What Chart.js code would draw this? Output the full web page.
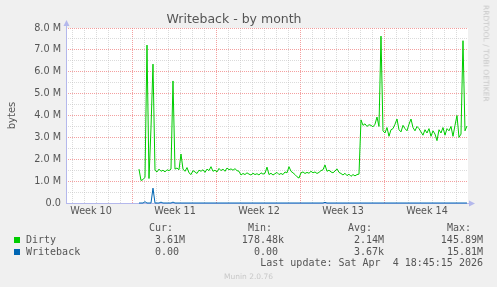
<!DOCTYPE html>
<html>
<head>
<meta charset="utf-8">
<script src="https://cdn.jsdelivr.net/npm/chart.js@4"></script>
<style>
  body { margin: 0; background: #f0f0f0; }
  #wrap { position: relative; width: 497px; height: 287px; overflow: hidden; }
  #chart { position: absolute; left: 0; top: 0; }
  .mono { position: absolute; font-family: "DejaVu Sans Mono", monospace; font-size: 10px; line-height: 12px; color: #555; white-space: pre; }
  .sq { position: absolute; width: 6px; height: 6px; }
  .small { position: absolute; font-family: "DejaVu Sans", sans-serif; font-size: 7.5px; line-height: 9px; color: #c8c8c8; white-space: pre; }
</style>
</head>
<body>
<div id="wrap">
  <canvas id="chart" width="497" height="287"></canvas>
</div>
<script>
// time axis is in days; week 11 starts at day 7
const weekLabels = ['Week 10', 'Week 11', 'Week 12', 'Week 13', 'Week 14'];
const weekStarts = [0, 7, 14, 21, 28];
const firstDay = 7.5;      // first sample
const stepDays = 1 / 6;    // one sample every 4 hours

// values in millions of bytes
const dirtyM = [
  1.55, 1.03, 1.07, 1.18, 7.22, 1.12, 3.43, 6.35, 1.50, 1.42,
  1.55, 1.45, 1.50, 1.42, 1.52, 1.48, 1.55, 5.58, 1.55, 1.60,
  1.52, 2.24, 1.55, 1.45, 1.62, 1.38, 1.30, 1.48, 1.42, 1.35,
  1.50, 1.45, 1.52, 1.40, 1.55, 1.48, 1.66, 1.45, 1.50, 1.42,
  1.58, 1.48, 1.55, 1.45, 1.60, 1.52, 1.56, 1.50, 1.57, 1.48,
  1.45, 1.28, 1.35, 1.30, 1.38, 1.32, 1.28, 1.36, 1.30, 1.34,
  1.28, 1.38, 1.32, 1.36, 1.64, 1.30, 1.36, 1.28, 1.34, 1.40,
  1.30, 1.35, 1.30, 1.42, 1.38, 1.66, 1.45, 1.38, 1.30, 1.20,
  1.14, 1.38, 1.42, 1.35, 1.40, 1.36, 1.45, 1.38, 1.42, 1.35,
  1.40, 1.48, 1.52, 1.74, 1.45, 1.50, 1.42, 1.38, 1.46, 1.56,
  1.40, 1.35, 1.28, 1.36, 1.25, 1.32, 1.22, 1.30, 1.24, 1.30,
  1.32, 3.80, 3.55, 3.62, 3.50, 3.58, 3.55, 3.48, 3.60, 3.93,
  3.50, 7.63, 3.30, 3.20, 3.45, 3.05, 3.35, 3.40, 3.60, 3.84,
  3.35, 3.25, 3.55, 3.40, 3.30, 3.60, 3.84, 3.45, 3.30, 3.50,
  3.40, 3.25, 3.10, 3.35, 3.20, 3.40, 3.05, 3.30, 3.15, 2.85,
  3.35, 3.20, 3.45, 3.10, 3.40, 3.30, 3.50, 3.05, 3.55, 4.00,
  3.00, 3.15, 7.42, 3.30, 3.52
];
const writebackM = [
  0, 0, 0, 0.06, 0, 0, 0, 0.68, 0, 0,
  0, 0.04, 0, 0, 0, 0, 0, 0.04, 0, 0,
  0, 0, 0, 0, 0, 0, 0, 0, 0, 0,
  0, 0, 0, 0, 0, 0, 0, 0, 0, 0,
  0, 0, 0, 0, 0, 0, 0, 0, 0, 0,
  0, 0, 0, 0, 0, 0, 0, 0, 0, 0,
  0, 0, 0, 0, 0, 0, 0, 0, 0, 0,
  0, 0, 0, 0, 0, 0, 0, 0, 0, 0,
  0, 0, 0, 0, 0, 0, 0, 0, 0, 0,
  0, 0, 0, 0.03, 0, 0, 0, 0, 0, 0,
  0, 0, 0, 0, 0, 0, 0, 0, 0, 0,
  0, 0, 0, 0, 0, 0, 0, 0, 0, 0,
  0, 0, 0, 0, 0, 0, 0, 0, 0, 0,
  0, 0, 0, 0, 0, 0, 0, 0, 0, 0,
  0, 0, 0, 0, 0, 0, 0, 0, 0, 0,
  0, 0, 0, 0, 0, 0, 0, 0, 0, 0,
  0, 0, 0, 0, 0
];

// legend / stats table
const seriesNames = ['Dirty', 'Writeback'];
const seriesColors = ['#00cc00', '#0066b3'];
const statHeaders = ['Cur:', 'Min:', 'Avg:', 'Max:'];
const curVals = ['3.61M', '0.00 '];
const minVals = ['178.48k', '0.00 '];
const avgVals = ['2.14M', '3.67k'];
const maxVals = ['145.89M', '15.81M'];
const lastUpdate = 'Last update: Sat Apr  4 18:45:15 2026';

const MAJOR = 'rgba(240, 120, 120, 0.7)';
const MINOR = 'rgba(190, 190, 190, 0.55)';
const AXIS = '#b4b8ec';

function toPoints(vals) {
  return vals.map((v, i) => ({ x: firstDay + i * stepDays, y: v * 1e6 }));
}

const plotBg = {
  id: 'plotBg',
  beforeDraw(chart) {
    const a = chart.chartArea;
    const ctx = chart.ctx;
    ctx.save();
    ctx.fillStyle = '#ffffff';
    ctx.fillRect(a.left, a.top, a.right - a.left, a.bottom - a.top);
    ctx.restore();
  },
  beforeDatasetsDraw(chart) {
    const a = chart.chartArea;
    const ctx = chart.ctx;
    ctx.save();
    ctx.strokeStyle = AXIS;
    ctx.fillStyle = AXIS;
    ctx.lineWidth = 1;
    ctx.beginPath();
    ctx.moveTo(a.left + 0.5, a.bottom + 0.5);
    ctx.lineTo(a.left + 0.5, a.top - 4);
    ctx.moveTo(a.left, a.bottom + 0.5);
    ctx.lineTo(a.right + 2, a.bottom + 0.5);
    ctx.stroke();
    ctx.beginPath();
    ctx.moveTo(a.left - 2.5, a.top - 2);
    ctx.lineTo(a.left + 3.5, a.top - 2);
    ctx.lineTo(a.left + 0.5, a.top - 8);
    ctx.closePath();
    ctx.fill();
    ctx.beginPath();
    ctx.moveTo(a.right + 1, a.bottom - 2.5);
    ctx.lineTo(a.right + 1, a.bottom + 3.5);
    ctx.lineTo(a.right + 7, a.bottom + 0.5);
    ctx.closePath();
    ctx.fill();
    ctx.restore();
  }
};

Chart.defaults.font.family = 'DejaVu Sans';
Chart.defaults.color = '#555';

new Chart(document.getElementById('chart'), {
  type: 'line',
  data: {
    datasets: [
      { label: 'Dirty', data: toPoints(dirtyM), borderColor: seriesColors[0], borderWidth: 1, pointRadius: 0, tension: 0, clip: 3 },
      { label: 'Writeback', data: toPoints(writebackM), borderColor: seriesColors[1], borderWidth: 1, pointRadius: 0, tension: 0, clip: 3 }
    ]
  },
  options: {
    responsive: false,
    animation: false,
    events: [],
    layout: { padding: { left: 0, right: 29, top: 0, bottom: 64 } },
    plugins: {
      legend: { display: false },
      tooltip: { enabled: false },
      title: {
        display: true,
        text: 'Writeback - by month',
        color: '#555',
        font: { size: 12.5, weight: 'normal' },
        padding: { top: 12, bottom: 1 }
      }
    },
    scales: {
      x: {
        type: 'linear',
        min: 1.417,
        max: 34.917,
        afterBuildTicks: s => {
          const t = [];
          for (let d = 2; d <= 34; d++) t.push({ value: d });
          weekStarts.forEach(w => t.push({ value: w + 3.5 }));
          t.sort((a, b) => a.value - b.value);
          s.ticks = t;
        },
        afterFit: s => { s.height = 20; },
        ticks: {
          autoSkip: false,
          maxRotation: 0,
          padding: 3,
          font: { size: 9.6 },
          color: '#555',
          callback: v => {
            const i = weekStarts.findIndex(w => w + 3.5 === v);
            return i >= 0 ? weekLabels[i] : '';
          }
        },
        grid: {
          drawTicks: false,
          color: c => {
            const v = c.tick ? c.tick.value : 0;
            if (v % 1) return 'rgba(0,0,0,0)';
            return v % 7 === 0 ? MAJOR : MINOR;
          },
          borderDash: [1, 1]
        },
        border: { display: false, dash: [1, 1] }
      },
      y: {
        min: 0,
        max: 8e6,
        afterFit: s => { s.width = 66; },
        ticks: {
          stepSize: 5e5,
          autoSkip: false,
          padding: 5,
          font: { size: 9.7 },
          color: '#555',
          callback: v => (v % 1e6 ? '' : (v === 0 ? '0.0' : (v / 1e6).toFixed(1) + ' M'))
        },
        grid: {
          drawTicks: false,
          color: c => ((c.tick ? c.tick.value : 0) % 1e6 ? MINOR : MAJOR),
          borderDash: [1, 1]
        },
        border: { display: false, dash: [1, 1] },
        title: {
          display: true,
          text: 'bytes',
          color: '#555',
          font: { size: 10 },
          padding: { top: 6, bottom: 0 }
        }
      }
    }
  },
  plugins: [plotBg]
});

// legend + stats, munin style
const wrap = document.getElementById('wrap');
function addText(cls, text, css) {
  const d = document.createElement('div');
  d.className = cls;
  d.textContent = text;
  Object.assign(d.style, css);
  wrap.appendChild(d);
  return d;
}
const colLefts = [149, 248, 348, 447];
const colRights = [185, 284, 384, 483];
statHeaders.forEach((h, i) => addText('mono', h, { left: colLefts[i] + 'px', top: '222px' }));
const rowTops = [234, 245.5];
seriesNames.forEach((name, r) => {
  const sq = document.createElement('div');
  sq.className = 'sq';
  sq.style.left = '14px';
  sq.style.top = (rowTops[r] + 3) + 'px';
  sq.style.background = seriesColors[r];
  wrap.appendChild(sq);
  addText('mono', name, { left: '26px', top: rowTops[r] + 'px' });
  [curVals, minVals, avgVals, maxVals].forEach((col, c) => {
    addText('mono', col[r], { right: (497 - colRights[c]) + 'px', top: rowTops[r] + 'px', textAlign: 'right' });
  });
});
addText('mono', lastUpdate, { right: (497 - 483) + 'px', top: '257px' });
addText('small', 'Munin 2.0.76', { left: '0px', width: '497px', textAlign: 'center', top: '272px' });
addText('small', 'RRDTOOL / TOBI OETIKER', {
  left: '486px', top: '5px', transformOrigin: '0 0', transform: 'rotate(90deg) translate(0, -4.5px)'
});
</script>
</body>
</html>
